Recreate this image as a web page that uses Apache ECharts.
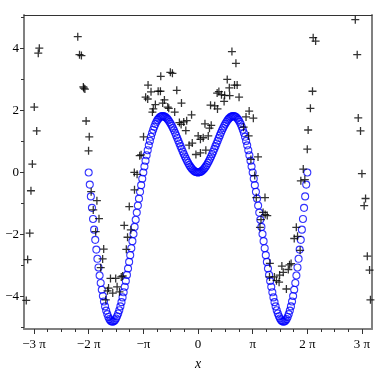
<!DOCTYPE html>
<html style="height: 100%">
   <head>
       <meta charset="utf-8">
   </head>
   <body style="height: 100%; margin: 0; background: #fff">
       <div id="container" style="width: 390px; height: 376px"></div>
       <script type="text/javascript" src="https://cdn.jsdelivr.net/npm/echarts@6/dist/echarts.min.js"></script>
       <script type="text/javascript">
// blue circles: sampled curve
var curveX = [-6.283, -6.220, -6.158, -6.095, -6.032, -5.969, -5.906, -5.843, -5.781, -5.718,
    -5.655, -5.592, -5.529, -5.466, -5.404, -5.341, -5.278, -5.215, -5.152, -5.089,
    -5.027, -4.964, -4.901, -4.838, -4.775, -4.712, -4.650, -4.587, -4.524, -4.461,
    -4.398, -4.335, -4.273, -4.210, -4.147, -4.084, -4.021, -3.958, -3.896, -3.833,
    -3.770, -3.707, -3.644, -3.581, -3.519, -3.456, -3.393, -3.330, -3.267, -3.204,
    -3.142, -3.079, -3.016, -2.953, -2.890, -2.827, -2.765, -2.702, -2.639, -2.576,
    -2.513, -2.450, -2.388, -2.325, -2.262, -2.199, -2.136, -2.073, -2.011, -1.948,
    -1.885, -1.822, -1.759, -1.696, -1.634, -1.571, -1.508, -1.445, -1.382, -1.319,
    -1.257, -1.194, -1.131, -1.068, -1.005, -0.942, -0.880, -0.817, -0.754, -0.691,
    -0.628, -0.565, -0.503, -0.440, -0.377, -0.314, -0.251, -0.188, -0.126, -0.063,
    0,
    0.063, 0.126, 0.188, 0.251, 0.314, 0.377, 0.440, 0.503, 0.565, 0.628,
    0.691, 0.754, 0.817, 0.880, 0.942, 1.005, 1.068, 1.131, 1.194, 1.257,
    1.319, 1.382, 1.445, 1.508, 1.571, 1.634, 1.696, 1.759, 1.822, 1.885,
    1.948, 2.011, 2.073, 2.136, 2.199, 2.262, 2.325, 2.388, 2.450, 2.513,
    2.576, 2.639, 2.702, 2.765, 2.827, 2.890, 2.953, 3.016, 3.079, 3.142,
    3.204, 3.267, 3.330, 3.393, 3.456, 3.519, 3.581, 3.644, 3.707, 3.770,
    3.833, 3.896, 3.958, 4.021, 4.084, 4.147, 4.210, 4.273, 4.335, 4.398,
    4.461, 4.524, 4.587, 4.650, 4.712, 4.775, 4.838, 4.901, 4.964, 5.027,
    5.089, 5.152, 5.215, 5.278, 5.341, 5.404, 5.466, 5.529, 5.592, 5.655,
    5.718, 5.781, 5.843, 5.906, 5.969, 6.032, 6.095, 6.158, 6.220, 6.283];
var curveY = [0, -0.391, -0.772, -1.142, -1.500, -1.845, -2.174, -2.488, -2.785, -3.064,
    -3.324, -3.564, -3.785, -3.985, -4.164, -4.321, -4.456, -4.570, -4.662, -4.732,
    -4.781, -4.808, -4.814, -4.800, -4.766, -4.712, -4.640, -4.551, -4.444, -4.321,
    -4.183, -4.031, -3.866, -3.689, -3.501, -3.304, -3.098, -2.886, -2.667, -2.443,
    -2.216, -1.986, -1.756, -1.525, -1.295, -1.068, -0.844, -0.624, -0.409, -0.201,
    0, 0.193, 0.378, 0.553, 0.719, 0.874, 1.018, 1.150, 1.271, 1.380,
    1.477, 1.562, 1.634, 1.695, 1.743, 1.779, 1.804, 1.817, 1.819, 1.811,
    1.793, 1.765, 1.728, 1.683, 1.630, 1.571, 1.505, 1.434, 1.358, 1.278,
    1.195, 1.110, 1.023, 0.936, 0.849, 0.762, 0.678, 0.595, 0.516, 0.441,
    0.369, 0.303, 0.242, 0.187, 0.139, 0.097, 0.062, 0.035, 0.016, 0.004,
    0,
    0.004, 0.016, 0.035, 0.062, 0.097, 0.139, 0.187, 0.242, 0.303, 0.369,
    0.441, 0.516, 0.595, 0.678, 0.762, 0.849, 0.936, 1.023, 1.110, 1.195,
    1.278, 1.358, 1.434, 1.505, 1.571, 1.630, 1.683, 1.728, 1.765, 1.793,
    1.811, 1.819, 1.817, 1.804, 1.779, 1.743, 1.695, 1.634, 1.562, 1.477,
    1.380, 1.271, 1.150, 1.018, 0.874, 0.719, 0.553, 0.378, 0.193, 0,
    -0.201, -0.409, -0.624, -0.844, -1.068, -1.295, -1.525, -1.756, -1.986, -2.216,
    -2.443, -2.667, -2.886, -3.098, -3.304, -3.501, -3.689, -3.866, -4.031, -4.183,
    -4.321, -4.444, -4.551, -4.640, -4.712, -4.766, -4.800, -4.814, -4.808, -4.781,
    -4.732, -4.662, -4.570, -4.456, -4.321, -4.164, -3.985, -3.785, -3.564, -3.324,
    -3.064, -2.785, -2.488, -2.174, -1.845, -1.500, -1.142, -0.772, -0.391, 0];

// black crosses
var crossX = [-9.12, -9.18, -9.41, -9.27, -9.52, -9.60, -9.67, -9.79, -9.87,
    -6.91, -6.81, -6.70, -6.56, -6.50, -6.59, -6.43, -6.25, -6.29, -6.14, -5.81, -6.02, -5.69, -5.88, -5.42, -5.48, -5.59,
    -5.03, -4.73, -4.41, -4.33, -5.14, -4.65, -4.90, -5.20, -4.51, -5.30,
    -3.65, -3.95, -4.24, -3.86, -4.05, -4.12,
    -3.66, -3.50, -3.27, -3.35, -3.13,
    -2.14, -1.59, -1.47, -2.87, -2.70, -2.29, -2.16, -1.22, -3.01, -2.89, -2.45, -1.93, -2.03,
    -1.74, -1.68, -2.57, -2.62, -0.95, -1.34, -0.37, -0.65, -0.82, -1.07, -0.97, -0.70,
    0.01, 0.14, 0.30, 0.59, -0.51, -0.33, -0.12, 0.14, 0.45,
    1.95, 2.18, 1.68, 1.80, 2.10, 2.25, 1.20, 1.10, 1.35, 1.53, 1.82, 2.36, 1.50, 0.72,
    0.96, 1.12, 2.94, 2.76, 3.18, 0.40, 0.76, 0.66, 2.62, 2.91, 3.45, 3.04, 3.26,
    3.85, 3.35, 3.74, 3.86, 3.98, 3.62, 3.56, 4.13,
    4.82, 5.26, 5.35, 5.19, 4.90, 4.69, 4.11, 4.39, 4.51, 4.66, 5.08,
    5.65, 5.72, 5.53, 5.87, 5.91, 6.14, 6.05, 6.28, 6.33, 6.46, 6.58, 6.62, 6.76,
    9.04, 9.15, 9.21, 9.34, 9.42, 9.63, 9.55, 9.73, 9.86, 9.91];
var crossY = [4.01, 3.85, 2.11, 1.34, 0.27, -0.59, -1.96, -2.81, -4.13,
    4.38, 3.80, 3.77, 2.72, 2.69, 2.76, 1.66, 1.15, 0.70, -0.62, -0.91, -1.21, -1.49, -1.91, -2.47, -2.79, -3.07,
    -3.42, -3.42, -3.37, -3.34, -3.73, -3.69, -3.89, -3.82, -3.85, -4.11,
    -0.56, -1.10, -1.71, -1.85, -2.09, -2.48,
    0.00, -0.06, 0.57, 0.54, 1.15,
    3.10, 3.23, 3.20, 2.82, 2.60, 2.62, 2.62, 2.65, 2.43, 2.37, 2.19, 2.34, 2.24,
    2.11, 2.07, 2.05, 1.95, 2.24, 1.95, 1.86, 1.67, 1.63, 1.61, 1.55, 1.35,
    1.18, 1.07, 1.12, 1.18, 0.88, 0.95, 0.58, 0.63, 0.72,
    3.90, 3.52, 3.00, 2.73, 2.82, 2.82, 2.61, 2.56, 2.51, 2.49, 2.48, 2.43, 2.29, 2.17,
    2.15, 2.05, 1.98, 1.79, 1.75, 1.57, 1.52, 1.43, 1.46, 1.18, 0.50, 0.42, -0.10,
    -0.81, -0.81, -1.29, -1.36, -1.39, -1.52, -1.77, -2.93,
    -3.02, -2.98, -2.94, -3.13, -3.22, -3.31, -3.37, -3.37, -3.49, -3.54, -3.76,
    -1.77, -2.06, -2.13, -2.51, -0.27, -0.23, 0.11, 0.75, 1.37, 2.07, 2.62, 4.35, 4.24,
    4.93, 3.80, 1.76, 1.34, -0.04, -0.84, -1.07, -2.70, -3.15, -4.11];

// ticks
var xTickMultiples = [-3, -2, -1, 0, 1, 2, 3];
var xTickLabels = ['\u22123 \u03c0', '\u22122 \u03c0', '\u2212\u03c0', '0', '\u03c0', '2 \u03c0', '3 \u03c0'];
var yMajorTicks = [-4, -2, 0, 2, 4];
var yMinorTicks = [-5, -3, -1, 1, 3, 5];

var xMajor = xTickMultiples.map(function (m) { return m * Math.PI; });
var xMinor = [];
for (var q = -12; q <= 12; q++) {
    if (q % 4 !== 0) xMinor.push(q * Math.PI / 4);
}

var serif = 'Liberation Serif';
var frameGray = '#808080';

var dom = document.getElementById("container");
var myChart = echarts.init(dom);

var curveData = curveX.map(function (x, i) { return [x, curveY[i]]; });
var crossData = crossX.map(function (x, i) { return [x, crossY[i]]; });

var option = {
    animation: false,
    backgroundColor: '#fff',
    grid: { left: 24, right: 18, top: 15, bottom: 45 },
    xAxis: [{
        type: 'value', min: -10, max: 10, position: 'bottom',
        axisLine: { show: true, onZero: false, lineStyle: { color: frameGray, width: 2 } },
        axisTick: { show: true, customValues: xMajor, length: 5, lineStyle: { color: '#333' } },
        axisLabel: {
            customValues: xMajor, margin: 9, color: '#000', fontFamily: serif, fontSize: 13,
            formatter: function (v) {
                var i = Math.round(v / Math.PI) + 3;
                return xTickLabels[i];
            }
        },
        splitLine: { show: false },
        name: 'x', nameLocation: 'middle', nameGap: 28,
        nameTextStyle: { fontFamily: serif, fontStyle: 'italic', fontSize: 14, color: '#000' }
    }, {
        type: 'value', min: -10, max: 10, position: 'bottom',
        axisLine: { show: false, onZero: false },
        axisTick: { show: true, customValues: xMinor, length: 3, lineStyle: { color: '#333' } },
        axisLabel: { show: false },
        splitLine: { show: false }
    }, {
        type: 'value', min: -10, max: 10, position: 'top',
        axisLine: { show: true, onZero: false, lineStyle: { color: '#333', width: 1 } },
        axisTick: { show: false },
        axisLabel: { show: false },
        splitLine: { show: false }
    }],
    yAxis: [{
        type: 'value', min: -5.05, max: 5.08, position: 'left',
        axisLine: { show: true, onZero: false, lineStyle: { color: frameGray, width: 2 } },
        axisTick: { show: true, customValues: yMajorTicks, length: 4, lineStyle: { color: '#333' } },
        axisLabel: {
            customValues: yMajorTicks, margin: 5, color: '#000', fontFamily: serif, fontSize: 13,
            formatter: function (v) {
                return v < 0 ? '\u2212' + Math.abs(v) : String(v);
            }
        },
        splitLine: { show: false }
    }, {
        type: 'value', min: -5.05, max: 5.08, position: 'left',
        axisLine: { show: false, onZero: false },
        axisTick: { show: true, customValues: yMinorTicks, length: 3, lineStyle: { color: '#333' } },
        axisLabel: { show: false },
        splitLine: { show: false }
    }, {
        type: 'value', min: -5.05, max: 5.08, position: 'right',
        axisLine: { show: true, onZero: false, lineStyle: { color: frameGray, width: 2 } },
        axisTick: { show: false },
        axisLabel: { show: false },
        splitLine: { show: false }
    }],
    series: [{
        name: 'curve',
        type: 'scatter',
        xAxisIndex: 0, yAxisIndex: 0,
        symbol: 'circle',
        symbolSize: 7,
        itemStyle: { color: 'rgba(0,0,0,0)', borderColor: '#0000ff', borderWidth: 1.1 },
        emphasis: { disabled: true },
        z: 2,
        data: curveData
    }, {
        name: 'points',
        type: 'scatter',
        xAxisIndex: 0, yAxisIndex: 0,
        symbol: 'path://M4.2,0H5.8V4.2H10V5.8H5.8V10H4.2V5.8H0V4.2H4.2Z',
        symbolSize: 8,
        itemStyle: { color: '#000' },
        emphasis: { disabled: true },
        z: 3,
        data: crossData
    }]
};

myChart.setOption(option);
       </script>
   </body>
</html>
